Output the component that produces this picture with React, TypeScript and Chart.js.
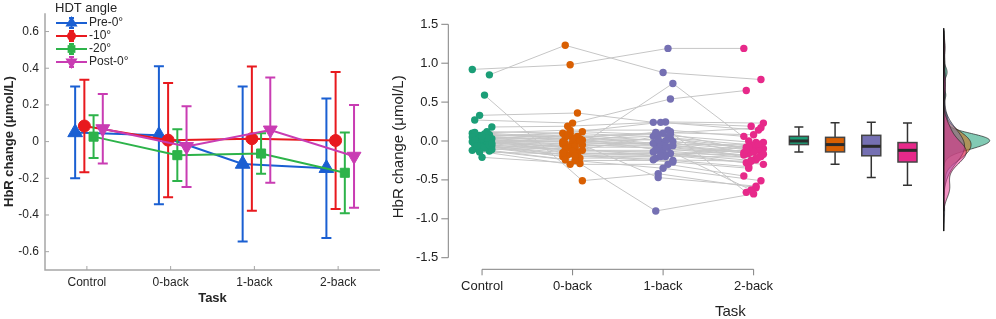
import React, { useEffect, useRef } from "react";
import { Chart, registerables } from "chart.js";
Chart.register(...registerables);

const FONT = "'Liberation Sans', Arial, Helvetica, sans-serif";

// ---------- left panel data ----------
const tasks = ["Control", "0-back", "1-back", "2-back"];
const angleLabels = ["Pre-0°", "-10°", "-20°", "Post-0°"];
const preMean = [0.05, 0.035, -0.122, -0.145];
const preErr = [0.25, 0.376, 0.423, 0.38];
const m10Mean = [0.085, 0.008, 0.016, 0.006];
const m10Err = [0.252, 0.312, 0.393, 0.374];
const m20Mean = [0.027, -0.074, -0.065, -0.17];
const m20Err = [0.117, 0.141, 0.11, 0.22];
const postMean = [0.07, -0.027, 0.063, -0.08];
const postErr = [0.19, 0.22, 0.287, 0.28];

// ---------- right panel data (one entry per subject) ----------
const controlVals = [0.92, 0.85, 0.59, 0.33, 0.27, 0.18, 0.12, -0.21, 0.02, 0.10, 0.08, 0.06, 0.05, 0.04, 0.03, 0.02, 0.01, 0.0, -0.01, -0.02, -0.03, -0.04, -0.05, -0.06, -0.07, -0.08, -0.10, -0.12, -0.13, -0.09, 0.07, 0.11, -0.11, 0.0, 0.03, -0.02, 0.05, -0.05, 0.09, -0.14, 0.01, -0.03, 0.04, 0.06, -0.06];
const zeroBackVals = [0.98, 1.23, -0.51, 0.36, 0.23, 0.19, 0.10, -0.29, -0.10, 0.14, 0.05, 0.12, 0.02, -0.02, 0.08, -0.04, 0.0, -0.06, -0.08, -0.03, -0.12, -0.14, -0.16, -0.18, -0.20, -0.22, -0.25, -0.30, -0.24, -0.05, 0.06, 0.04, -0.09, -0.01, 0.03, -0.07, 0.10, -0.11, 0.01, -0.17, -0.13, 0.07, -0.15, 0.0, -0.19];
const oneBackVals = [1.19, 0.88, -0.42, 0.24, 0.54, 0.245, 0.24, -0.90, 0.74, 0.14, 0.10, 0.08, 0.06, 0.03, 0.0, -0.02, -0.04, -0.06, -0.08, -0.10, -0.12, -0.14, -0.16, -0.18, -0.20, -0.22, -0.25, -0.30, -0.35, -0.47, -0.03, 0.12, -0.20, -0.05, -0.11, -0.01, 0.05, -0.15, 0.02, -0.24, 0.09, -0.07, -0.19, 0.11, -0.27];
const twoBackVals = [1.19, 0.79, -0.60, 0.19, 0.65, 0.23, 0.14, -0.68, 0.0, 0.06, 0.17, -0.02, -0.05, -0.08, -0.10, -0.12, -0.14, -0.16, -0.18, -0.20, -0.22, -0.25, -0.28, -0.30, -0.10, -0.06, -0.33, -0.45, -0.51, -0.58, -0.63, -0.66, -0.02, -0.04, -0.13, -0.08, -0.15, -0.19, -0.24, -0.26, -0.11, -0.17, -0.21, 0.08, -0.35];

// boxplot statistics
const boxLow = [-0.14, -0.30, -0.47, -0.57];
const boxQ1 = [-0.046, -0.14, -0.19, -0.27];
const boxMed = [0.0, -0.046, -0.068, -0.12];
const boxQ3 = [0.06, 0.047, 0.073, -0.02];
const boxHigh = [0.18, 0.235, 0.24, 0.23];

const dark2 = ["#1b9e77", "#d95f02", "#7570b3", "#e7298a"];
const dark2Fill = ["rgba(27,158,119,0.55)", "rgba(217,95,2,0.5)", "rgba(117,112,179,0.5)", "rgba(231,41,138,0.5)"];

// layout constants
const seriesOffset = [-0.14, -0.03, 0.08, 0.19];
const seriesColor = ["#1a5fd2", "#e8191e", "#2db34a", "#c93cb3"];
const seriesShape = ["triangle", "circle", "rect", "triangleDown"];
const boxPos = [4.5, 4.9, 5.3, 5.7];
const densityBase = 6.1;

const jit = (i: number, g: number) => ((((i * 7 + g * 3) % 9) - 4) * 0.027);

function drawMarker(ctx: CanvasRenderingContext2D, shape: string, x: number, y: number, r: number) {
  ctx.beginPath();
  if (shape === "circle") {
    ctx.arc(x, y, r, 0, Math.PI * 2);
  } else if (shape === "rect") {
    const s = r * Math.SQRT1_2;
    ctx.rect(x - s, y - s, 2 * s, 2 * s);
  } else {
    const dir = shape === "triangle" ? 1 : -1;
    for (let k = 0; k < 3; k++) {
      const a = (k * 2 * Math.PI) / 3;
      const px = x + Math.sin(a) * r;
      const py = y - dir * Math.cos(a) * r;
      if (k === 0) ctx.moveTo(px, py); else ctx.lineTo(px, py);
    }
    ctx.closePath();
  }
  ctx.fill();
}

// ---------- KDE helpers ----------
function quantile(sorted: number[], p: number) {
  const h = (sorted.length - 1) * p;
  const lo = Math.floor(h);
  const hi = Math.ceil(h);
  return sorted[lo] + (sorted[hi] - sorted[lo]) * (h - lo);
}
function kde(vals: number[]) {
  const n = vals.length;
  const s = [...vals].sort((a, b) => a - b);
  const mean = vals.reduce((a, b) => a + b, 0) / n;
  const sd = Math.sqrt(vals.reduce((a, b) => a + (b - mean) * (b - mean), 0) / (n - 1));
  const iqr = quantile(s, 0.75) - quantile(s, 0.25);
  const bw = 1.4 * 0.9 * Math.min(sd, iqr / 1.34) * Math.pow(n, -0.2);
  const lo = s[0] - 2.1 * bw;
  const hi = s[n - 1] + 2.1 * bw;
  const pts: { y: number; d: number }[] = [];
  const steps = 240;
  for (let k = 0; k <= steps; k++) {
    const yy = lo + ((hi - lo) * k) / steps;
    let d = 0;
    for (const v of vals) {
      const z = (yy - v) / bw;
      d += Math.exp(-0.5 * z * z);
    }
    d /= n * bw * Math.sqrt(2 * Math.PI);
    pts.push({ y: yy, d });
  }
  return pts;
}

// ---------- plugins ----------
const leftAxes = {
  id: "leftAxes",
  beforeDatasetsDraw(chart: any) {
    const { ctx, chartArea: a, scales } = chart;
    const x = scales.x, y = scales.y;
    ctx.save();
    ctx.strokeStyle = "#a6a6a6";
    ctx.lineWidth = 1.5;
    ctx.beginPath();
    ctx.moveTo(a.left, a.top);
    ctx.lineTo(a.left, a.bottom);
    ctx.lineTo(a.right, a.bottom);
    ctx.stroke();
    ctx.lineWidth = 1;
    ctx.beginPath();
    for (const t of y.ticks) {
      const py = y.getPixelForValue(t.value);
      ctx.moveTo(a.left, py);
      ctx.lineTo(a.left + 4, py);
    }
    for (const t of x.ticks) {
      const px = x.getPixelForValue(t.value);
      ctx.moveTo(px, a.bottom);
      ctx.lineTo(px, a.bottom - 4);
    }
    ctx.stroke();
    ctx.restore();
  },
};

const errorBars = {
  id: "errorBars",
  beforeDatasetDraw(chart: any, args: any) {
    const ds = chart.data.datasets[args.index];
    if (!ds.errs) return;
    const { ctx } = chart;
    const y = chart.scales.y;
    ctx.save();
    ctx.strokeStyle = ds.borderColor;
    ctx.lineWidth = 2;
    ctx.beginPath();
    args.meta.data.forEach((el: any, i: number) => {
      const v = ds.data[i].y;
      const t = y.getPixelForValue(v + ds.errs[i]);
      const b = y.getPixelForValue(v - ds.errs[i]);
      ctx.moveTo(el.x, t);
      ctx.lineTo(el.x, b);
      ctx.moveTo(el.x - 5, t);
      ctx.lineTo(el.x + 5, t);
      ctx.moveTo(el.x - 5, b);
      ctx.lineTo(el.x + 5, b);
    });
    ctx.stroke();
    ctx.restore();
  },
};

const leftLegend = {
  id: "leftLegend",
  afterDraw(chart: any) {
    const { ctx } = chart;
    ctx.save();
    ctx.fillStyle = "#262626";
    ctx.textBaseline = "middle";
    ctx.textAlign = "left";
    ctx.font = `13px ${FONT}`;
    ctx.fillText("HDT angle", 55, 8);
    ctx.font = `12px ${FONT}`;
    angleLabels.forEach((lab, i) => {
      const cy = 23 + i * 13;
      const c = seriesColor[i];
      ctx.strokeStyle = c;
      ctx.fillStyle = c;
      ctx.lineWidth = 2;
      ctx.beginPath();
      ctx.moveTo(56, cy);
      ctx.lineTo(87, cy);
      ctx.moveTo(71.5, cy - 5);
      ctx.lineTo(71.5, cy + 5);
      ctx.moveTo(69, cy - 5);
      ctx.lineTo(74, cy - 5);
      ctx.moveTo(69, cy + 5);
      ctx.lineTo(74, cy + 5);
      ctx.stroke();
      const r = seriesShape[i] === "circle" ? 4.5 : seriesShape[i] === "rect" ? 5.5 : 7;
      drawMarker(ctx, seriesShape[i], 71.5, cy, r);
      ctx.fillStyle = "#262626";
      ctx.fillText(lab, 89, cy);
    });
    ctx.restore();
  },
};

const groupVals = [controlVals, zeroBackVals, oneBackVals, twoBackVals];

const rightBack = {
  id: "rightBack",
  beforeDatasetsDraw(chart: any) {
    const { ctx, chartArea: a, scales } = chart;
    const x = scales.x, y = scales.y;
    ctx.save();
    ctx.strokeStyle = "#808080";
    ctx.lineWidth = 1;
    ctx.beginPath();
    ctx.moveTo(a.left, y.getPixelForValue(1.5));
    ctx.lineTo(a.left, y.getPixelForValue(-1.5));
    for (const t of y.ticks) {
      const py = y.getPixelForValue(t.value);
      ctx.moveTo(a.left, py);
      ctx.lineTo(a.left - 7, py);
    }
    ctx.moveTo(x.getPixelForValue(1), a.bottom);
    ctx.lineTo(x.getPixelForValue(4), a.bottom);
    for (const t of x.ticks) {
      const px = x.getPixelForValue(t.value);
      ctx.moveTo(px, a.bottom);
      ctx.lineTo(px, a.bottom + 6);
    }
    ctx.stroke();
    // subject lines
    ctx.strokeStyle = "#c6c6c6";
    ctx.lineWidth = 1;
    const metas = [0, 1, 2, 3].map((g) => chart.getDatasetMeta(g));
    for (let i = 0; i < controlVals.length; i++) {
      ctx.beginPath();
      metas.forEach((m: any, g: number) => {
        const el = m.data[i];
        if (g === 0) ctx.moveTo(el.x, el.y); else ctx.lineTo(el.x, el.y);
      });
      ctx.stroke();
    }
    ctx.restore();
  },
  afterDatasetsDraw(chart: any) {
    const { ctx, chartArea: a, scales } = chart;
    const x = scales.x, y = scales.y;
    ctx.save();
    // boxplots
    for (let g = 0; g < 4; g++) {
      const cx = x.getPixelForValue(boxPos[g]);
      const half = 9.5;
      const yl = y.getPixelForValue(boxLow[g]);
      const yq1 = y.getPixelForValue(boxQ1[g]);
      const ym = y.getPixelForValue(boxMed[g]);
      const yq3 = y.getPixelForValue(boxQ3[g]);
      const yh = y.getPixelForValue(boxHigh[g]);
      ctx.strokeStyle = "#333333";
      ctx.lineWidth = 1.5;
      ctx.beginPath();
      ctx.moveTo(cx, yh); ctx.lineTo(cx, yq3);
      ctx.moveTo(cx, yq1); ctx.lineTo(cx, yl);
      ctx.moveTo(cx - 4.5, yh); ctx.lineTo(cx + 4.5, yh);
      ctx.moveTo(cx - 4.5, yl); ctx.lineTo(cx + 4.5, yl);
      ctx.stroke();
      ctx.fillStyle = dark2[g];
      ctx.fillRect(cx - half, yq3, 2 * half, yq1 - yq3);
      ctx.strokeStyle = "#444444";
      ctx.strokeRect(cx - half, yq3, 2 * half, yq1 - yq3);
      ctx.strokeStyle = "#2a2a2a";
      ctx.lineWidth = 3;
      ctx.beginPath();
      ctx.moveTo(cx - half, ym); ctx.lineTo(cx + half, ym);
      ctx.stroke();
    }
    // densities
    const dens = groupVals.map((v) => kde(v));
    let maxD = 0;
    let gTop = -Infinity, gBot = Infinity;
    dens.forEach((p) => p.forEach((q) => {
      maxD = Math.max(maxD, q.d);
      gTop = Math.max(gTop, q.y);
      gBot = Math.min(gBot, q.y);
    }));
    const k = 46 / maxD;
    const base = x.getPixelForValue(densityBase);
    dens.forEach((p, g) => {
      ctx.beginPath();
      ctx.moveTo(base, y.getPixelForValue(p[0].y));
      p.forEach((q) => ctx.lineTo(base + q.d * k, y.getPixelForValue(q.y)));
      ctx.lineTo(base, y.getPixelForValue(p[p.length - 1].y));
      ctx.closePath();
      ctx.fillStyle = dark2Fill[g];
      ctx.fill();
      ctx.strokeStyle = "#222222";
      ctx.lineWidth = 0.7;
      ctx.stroke();
    });
    ctx.strokeStyle = "#111111";
    ctx.lineWidth = 1.2;
    ctx.beginPath();
    ctx.moveTo(base, y.getPixelForValue(gTop));
    ctx.lineTo(base, y.getPixelForValue(gBot));
    ctx.stroke();
    // x title
    ctx.fillStyle = "#222222";
    ctx.font = `15px ${FONT}`;
    ctx.textAlign = "center";
    ctx.textBaseline = "middle";
    ctx.fillText("Task", (a.left + a.right) / 2 + 10, 311.5);
    ctx.restore();
  },
};

function leftConfig(): any {
  const means = [preMean, m10Mean, m20Mean, postMean];
  const errs = [preErr, m10Err, m20Err, postErr];
  const radii = [8.5, 6, 6.4, 8];
  const datasets = angleLabels.map((lab, s) => ({
    label: lab,
    data: tasks.map((_, i) => ({ x: i + 1 + seriesOffset[s], y: means[s][i] })),
    errs: errs[s],
    borderColor: seriesColor[s],
    backgroundColor: seriesColor[s],
    pointBackgroundColor: seriesColor[s],
    pointBorderColor: seriesColor[s],
    borderWidth: 2,
    pointBorderWidth: 1,
    pointStyle: seriesShape[s] === "triangleDown" ? "triangle" : seriesShape[s],
    pointRotation: seriesShape[s] === "triangleDown" ? 180 : 0,
    pointRadius: radii[s],
    pointHoverRadius: radii[s],
    tension: 0,
    fill: false,
    order: 3 - s,
  }));
  return {
    type: "line",
    data: { datasets },
    options: {
      animation: false,
      responsive: false,
      devicePixelRatio: 1,
      events: [],
      layout: { padding: { top: 6, right: 10, left: 0, bottom: 0 } },
      plugins: { legend: { display: false }, tooltip: { enabled: false } },
      scales: {
        x: {
          type: "linear",
          min: 0.5,
          max: 4.5,
          afterBuildTicks: (s: any) => { s.ticks = [1, 2, 3, 4].map((v) => ({ value: v })); },
          afterFit: (s: any) => { s.height = 49; },
          grid: { display: false, drawTicks: false },
          border: { display: false },
          ticks: {
            callback: (v: number) => tasks[Math.round(v) - 1] ?? "",
            padding: 5.5,
            autoSkip: false,
            maxRotation: 0,
            color: "#262626",
            font: { family: FONT, size: 12 },
          },
          title: {
            display: true,
            text: "Task",
            color: "#262626",
            font: { family: FONT, size: 13, weight: "bold" },
            padding: { top: 0, bottom: 13 },
          },
        },
        y: {
          min: -0.7,
          max: 0.7,
          afterBuildTicks: (s: any) => { s.ticks = [-0.6, -0.4, -0.2, 0, 0.2, 0.4, 0.6].map((v) => ({ value: v })); },
          afterFit: (s: any) => { s.width = 45; },
          grid: { display: false, drawTicks: false },
          border: { display: false },
          ticks: {
            callback: (v: number) => String(Number(v.toFixed(1))),
            padding: 6,
            color: "#262626",
            font: { family: FONT, size: 12 },
          },
          title: {
            display: true,
            text: "HbR change (μmol/L)",
            color: "#262626",
            font: { family: FONT, size: 13, weight: "bold" },
            padding: { top: 2, bottom: 0 },
          },
        },
      },
    },
    plugins: [leftAxes, errorBars, leftLegend],
  };
}

function rightConfig(): any {
  const datasets = groupVals.map((vals, g) => ({
    label: tasks[g],
    data: vals.map((v, i) => ({ x: g + 1 + jit(i, g), y: v })),
    backgroundColor: dark2[g],
    borderColor: dark2[g],
    pointRadius: 3.7,
    pointHoverRadius: 3.7,
    pointBorderWidth: 0,
    showLine: false,
  }));
  return {
    type: "scatter",
    data: { datasets },
    options: {
      animation: false,
      responsive: false,
      devicePixelRatio: 1,
      events: [],
      layout: { padding: { top: 24.3, right: 0, left: 0, bottom: 0 } },
      plugins: { legend: { display: false }, tooltip: { enabled: false } },
      scales: {
        x: {
          type: "linear",
          min: 0.627,
          max: 6.637,
          afterBuildTicks: (s: any) => { s.ticks = [1, 2, 3, 4].map((v) => ({ value: v })); },
          afterFit: (s: any) => { s.height = 49.7; },
          grid: { display: false, drawTicks: false },
          border: { display: false },
          ticks: {
            callback: (v: number) => tasks[Math.round(v) - 1] ?? "",
            padding: 9.6,
            autoSkip: false,
            maxRotation: 0,
            color: "#222222",
            font: { family: FONT, size: 13 },
          },
        },
        y: {
          min: -1.649,
          max: 1.5,
          afterBuildTicks: (s: any) => { s.ticks = [-1.5, -1, -0.5, 0, 0.5, 1, 1.5].map((v) => ({ value: v })); },
          afterFit: (s: any) => { s.width = 58.3; },
          grid: { display: false, drawTicks: false },
          border: { display: false },
          ticks: {
            callback: (v: number) => v.toFixed(1),
            padding: 10,
            color: "#222222",
            font: { family: FONT, size: 13 },
          },
          title: {
            display: true,
            text: "HbR change (μmol/L)",
            color: "#222222",
            font: { family: FONT, size: 15 },
            padding: { top: 0, bottom: 0 },
          },
        },
      },
    },
    plugins: [rightBack],
  };
}

export default function App() {
  const leftRef = useRef<HTMLCanvasElement>(null);
  const rightRef = useRef<HTMLCanvasElement>(null);
  useEffect(() => {
    const l = new Chart(leftRef.current as HTMLCanvasElement, leftConfig());
    const r = new Chart(rightRef.current as HTMLCanvasElement, rightConfig());
    return () => {
      l.destroy();
      r.destroy();
    };
  }, []);
  return (
    <div style={{ position: "absolute", left: 0, top: 0, width: 996, height: 319, background: "#ffffff" }}>
      <canvas ref={leftRef} width={390} height={319} style={{ position: "absolute", left: 0, top: 0, width: 390, height: 319 }} />
      <canvas ref={rightRef} width={606} height={319} style={{ position: "absolute", left: 390, top: 0, width: 606, height: 319 }} />
    </div>
  );
}
